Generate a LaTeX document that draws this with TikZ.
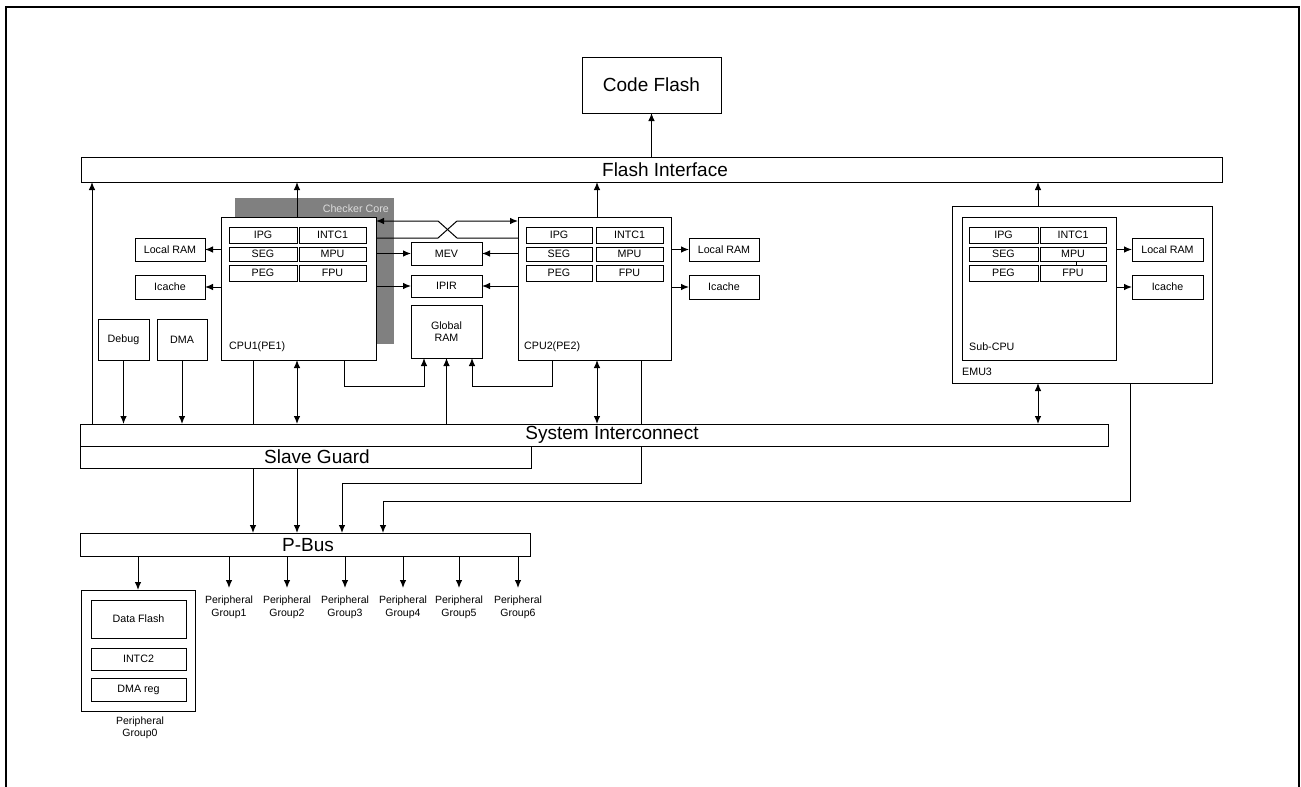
\documentclass[tikz,border=0pt]{standalone}
\usepackage{fontspec}
\setmainfont{Liberation Sans}
\usetikzlibrary{arrows.meta}
\newcommand{\fsmall}{\fontsize{10.7}{12.3}\selectfont}
\newcommand{\fbig}{\fontsize{19}{22}\selectfont}
\definecolor{ckgrey}{RGB}{128,128,128}
\definecolor{cktext}{RGB}{220,220,220}
\newcommand{\bx}[7][]{\node[box,#1,minimum width={(#5)-(#3)},minimum height={(#6)-(#4)}] (#2) at ({(#3+#5)/2},{(#4+#6)/2}) {#7};}
\newcommand{\corebl}[5]{%
\bx{#1ipg}{#2}{227}{#3}{243}{IPG}
\bx{#1intc}{#4}{227}{#5}{243}{INTC1}
\bx{#1seg}{#2}{247}{#3}{261}{SEG}
\bx{#1mpu}{#4}{247}{#5}{261}{MPU}
\bx{#1peg}{#2}{265}{#3}{281}{PEG}
\bx{#1fpu}{#4}{265}{#5}{281}{FPU}}
\tikzset{
  box/.style={draw, line width=0.95pt, fill=white, inner sep=0pt, outer sep=0pt, font=\fsmall, align=center},
  arr/.style={-{Latex[length=8pt,width=6.5pt]}, line width=1pt},
  darr/.style={{Latex[length=8pt,width=6.5pt]}-{Latex[length=8pt,width=6.5pt]}, line width=1pt},
  ln/.style={line width=1pt},
  lbl/.style={inner sep=0pt, font=\fsmall},
  plbl/.style={inner sep=0pt, align=center, font=\fontsize{10.5}{13}\selectfont},
}
\begin{document}
\begin{tikzpicture}[x=1pt,y=-1pt]
\useasboundingbox (0,0) rectangle (1301,787);
\draw[line width=2pt] (6,787) -- (6,6.5) -- (1299,6.5) -- (1299,787);

% column / row helper coordinates
\foreach \c in {92,253,297,342,344,383,424,472,552,597,641,1038,1130}{\coordinate (k\c) at (\c,0);}
\coordinate (y386) at (0,386);
\coordinate (y483) at (0,483);
\coordinate (y501) at (0,501);

% top
\bx[font=\fbig]{cf}{582}{57}{721}{113}{Code Flash}
\bx{fi}{81}{157}{1222}{182}{}
\node[inner sep=0pt, font=\fbig] (fitxt) at (665,169.5) {Flash Interface};

% checker core
\fill[ckgrey] (235,198) rectangle (394,344);
\node[lbl, anchor=east, text=cktext] (cktxt) at (389,209) {Checker Core};

% CPU1
\bx{cpu1}{221}{217}{376}{360}{}
\corebl{a}{229}{297}{299}{366}
\node[lbl, anchor=west] (cpu1lbl) at (229,347) {CPU1(PE1)};
\bx{lram1}{135}{238}{205}{261}{Local RAM}
\bx{icache1}{135}{275}{205}{299}{Icache}
\bx{debug}{98}{319}{149}{360}{Debug}
\bx{dma}{157}{319}{207}{360}{DMA}

% middle
\bx{mev}{411}{242}{482}{265}{MEV}
\bx{ipir}{411}{275}{482}{297}{IPIR}
\bx[font=\fontsize{10.7}{12}\selectfont]{gram}{411}{305}{482}{358}{Global\\RAM}

% CPU2
\bx{cpu2}{518}{217}{671}{360}{}
\corebl{b}{526}{592}{596}{663}
\node[lbl, anchor=west] (cpu2lbl) at (524,347) {CPU2(PE2)};
\bx{lram2}{689}{238}{759}{261}{Local RAM}
\bx{icache2}{689}{275}{759}{299}{Icache}

% EMU3
\bx{emu3}{952}{206}{1212}{383}{}
\node[lbl, anchor=west] (emulbl) at (962,372) {EMU3};
\bx{subcpu}{962}{217}{1116}{360}{}
\corebl{c}{969}{1038}{1040}{1106}
\draw[ln] (cmpu.south -| 1076,0) -- (cfpu.north -| 1076,0);
\node[lbl, anchor=west] (sublbl) at (969,347) {Sub-CPU};
\bx{lram3}{1132}{238}{1203}{261}{Local RAM}
\bx{icache3}{1132}{275}{1203}{299}{Icache}

% buses
\bx{si}{80}{424}{1108}{446}{}
\node[inner sep=0pt, font=\fbig] (sitxt) at (612,435) {System Interconnect};
\bx{sg}{80}{446}{531}{468}{}
\node[inner sep=0pt, font=\fbig] (sgtxt) at (317,457) {Slave Guard};
\bx{pbus}{80}{533}{530}{556}{}
\node[inner sep=0pt, font=\fbig] (pbtxt) at (308,545) {P-Bus};

% peripheral group 0
\bx{pg0}{81}{590}{195}{711}{}
\bx{dflash}{91}{600}{186}{638}{Data Flash}
\bx{intc2}{91}{648}{186}{670}{INTC2}
\bx{dmareg}{91}{678}{186}{701}{DMA reg}
\node[inner sep=0pt, align=center, font=\fontsize{10.5}{12}\selectfont] (pg0lbl) at (140,728) {Peripheral\\Group0};

% up to flash interface
\draw[arr] (fi.north -| cf) -- (cf.south);
\draw[arr] (si.north -| k92) -- (fi.south -| k92);
\draw[arr] (cpu1.north -| k297) -- (fi.south -| k297);
\draw[arr] (cpu2.north -| k597) -- (fi.south -| k597);
\draw[arr] (emu3.north -| k1038) -- (fi.south -| k1038);

% CPU1 side
\draw[arr] (cpu1.west |- lram1) -- (lram1.east);
\draw[arr] (cpu1.west |- icache1) -- (icache1.east);
\draw[arr] (cpu1.east |- mev) -- (mev.west);
\draw[arr] (cpu2.west |- mev) -- (mev.east);
\draw[arr] (cpu1.east |- ipir) -- (ipir.west);
\draw[arr] (cpu2.west |- ipir) -- (ipir.east);
\coordinate (xa) at (438,221);
\coordinate (xb) at (457,221);
\coordinate (xc) at (438,238);
\coordinate (xd) at (457,238);
\draw[arr] (cpu1.east |- xc) -- (xc) -- (xb) -- (cpu2.west |- xb);
\draw[arr] (cpu2.west |- xd) -- (xd) -- (xa) -- (cpu1.east |- xa);

% right side
\draw[arr] (cpu2.east |- lram2) -- (lram2.west);
\draw[arr] (cpu2.east |- icache2) -- (icache2.west);
\draw[arr] (subcpu.east |- lram3) -- (lram3.west);
\draw[arr] (subcpu.east |- icache3) -- (icache3.west);

% to system interconnect
\draw[arr] (debug.south) -- (si.north -| debug.south);
\draw[arr] (dma.south) -- (si.north -| dma.south);
\draw[ln] (cpu1.south -| k253) -- (si.north -| k253);
\draw[darr] (cpu1.south -| k297) -- (si.north -| k297);
\draw[arr] (cpu1.south -| k344) -- (k344 |- y386) -- (y386 -| k424) -- (gram.south -| k424);
\draw[arr] (si.north -| gram.south) -- (gram.south);
\draw[arr] (cpu2.south -| k552) -- (k552 |- y386) -- (y386 -| k472) -- (gram.south -| k472);
\draw[darr] (cpu2.south -| k597) -- (si.north -| k597);
\draw[ln] (cpu2.south -| k641) -- (si.north -| k641);
\draw[darr] (emu3.south -| k1038) -- (si.north -| k1038);

% to P-Bus
\draw[arr] (sg.south -| k253) -- (pbus.north -| k253);
\draw[arr] (sg.south -| k297) -- (pbus.north -| k297);
\draw[arr] (si.south -| k641) -- (k641 |- y483) -- (y483 -| k342) -- (pbus.north -| k342);
\draw[arr] (emu3.south -| k1130) -- (k1130 |- y501) -- (y501 -| k383) -- (pbus.north -| k383);

% peripherals
\draw[arr] (pbus.south -| pg0.north) -- (pg0.north);
\foreach \x/\n in {229/1,287/2,345/3,403/4,459/5,518/6}{
  \coordinate (pt\n) at (\x,588);
  \draw[arr] (pbus.south -| pt\n) -- (pt\n);
  \node[plbl] (pl\n) at (\x,607.5) {Peripheral\\Group\n};
}
\end{tikzpicture}
\end{document}
